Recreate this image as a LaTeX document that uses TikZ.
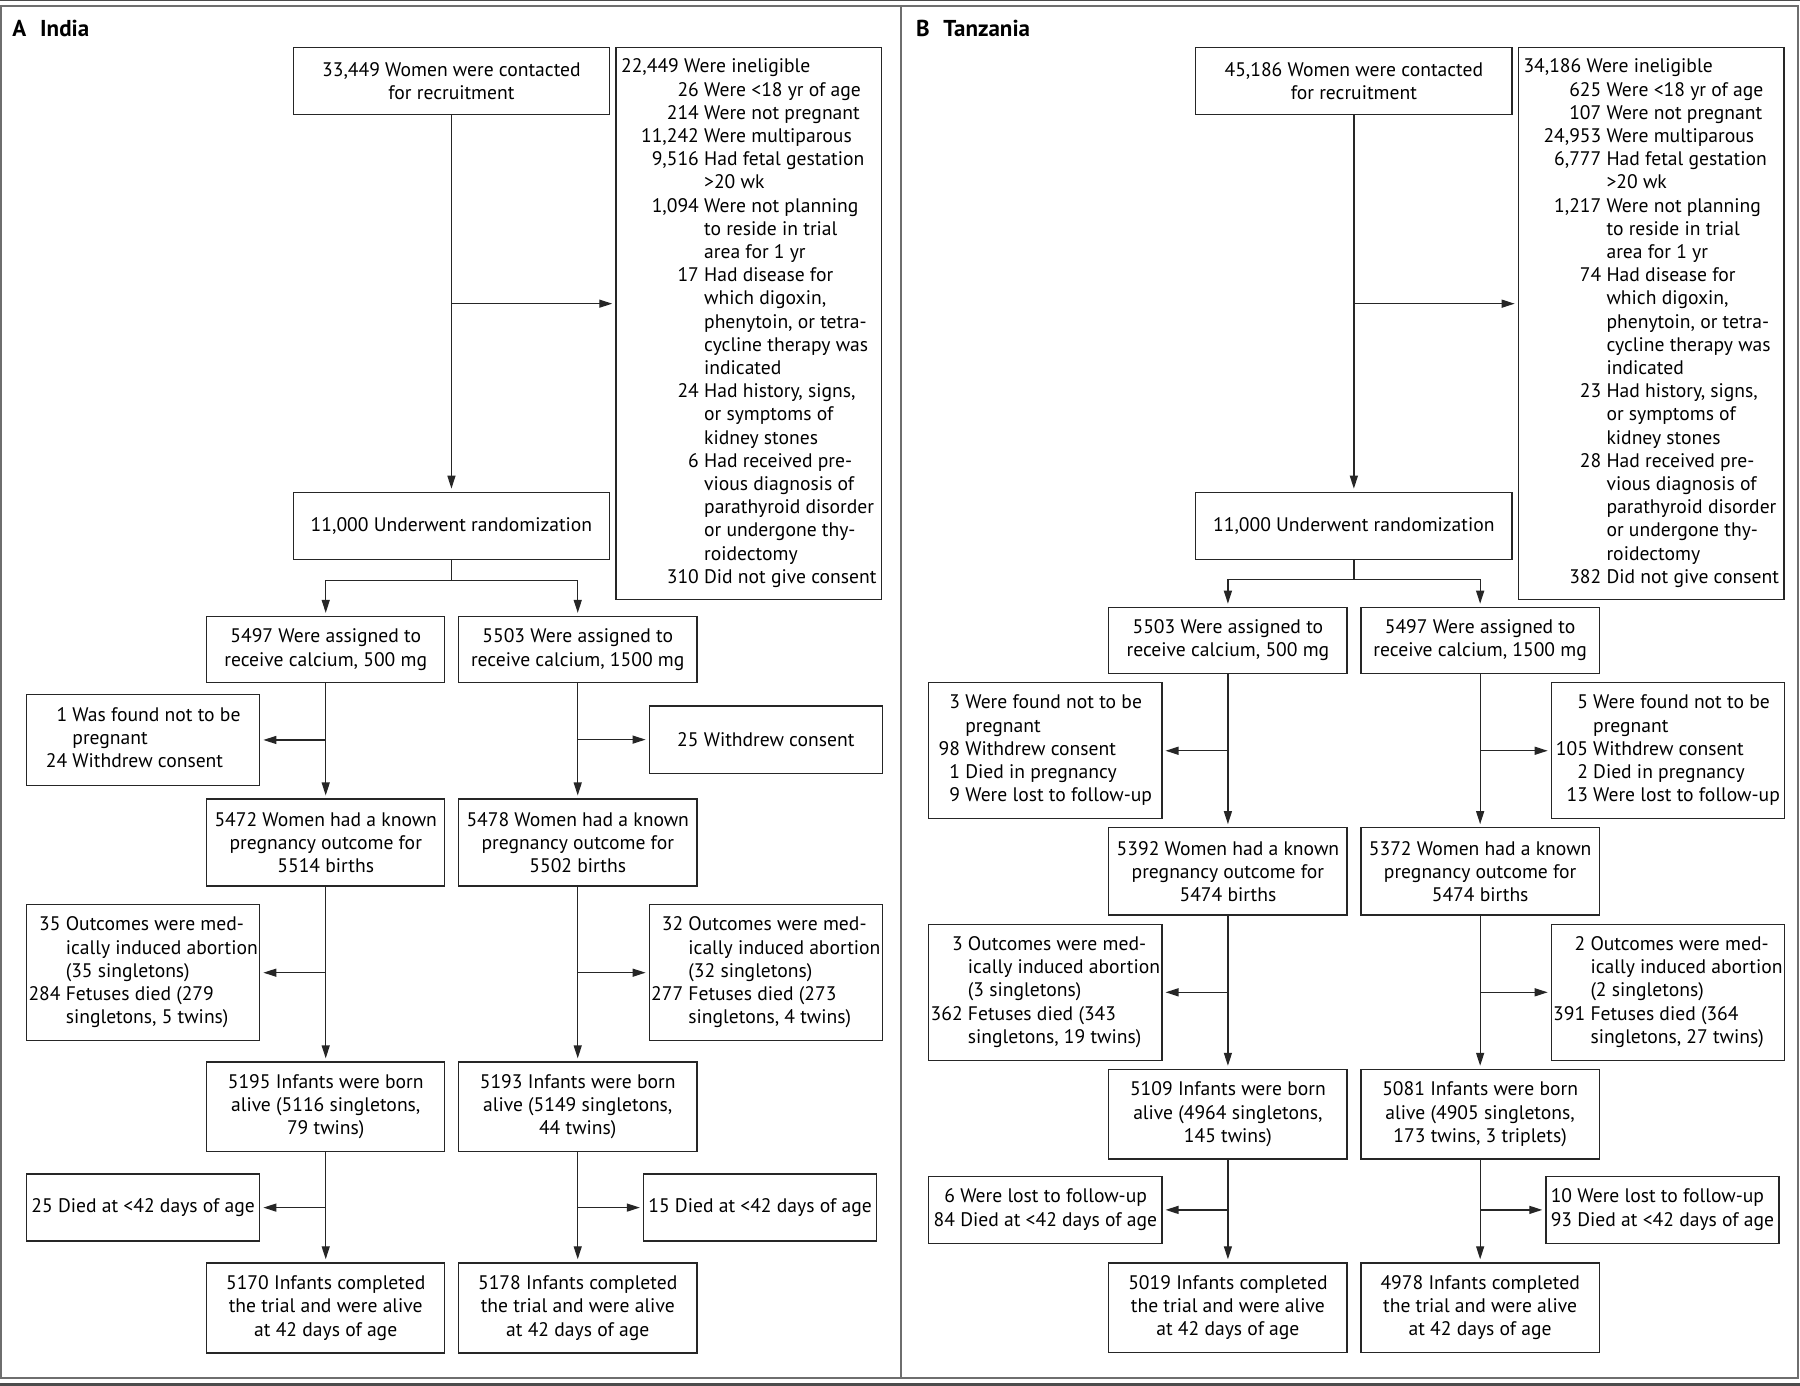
\documentclass[tikz,border=0pt]{standalone}
\usepackage{fontspec}
\setmainfont{PT Sans}
\usetikzlibrary{arrows.meta}

\newcommand{\dpx}{0.574pt}

\tikzset{
  box/.style={draw=black!85, line width=0.65pt, inner sep=0pt, align=center,
    font=\fontsize{9.8}{11.6}\selectfont},
  topbox/.style={box, minimum width=275.5*\dpx, minimum height=58.4*\dpx},
  armbox/.style={box, minimum width=207.5*\dpx},
  sidebox/.style={box, minimum width=203*\dpx},
  flow/.style={draw=black!85, line width=0.65pt, -{Triangle[length=6.5pt,width=4pt]}, shorten >=1.5pt},
  link/.style={draw=black!85, line width=0.65pt},
  panel/.style={draw=black!57, line width=1pt},
  heading/.style={anchor=base west, inner sep=0pt, font=\fontsize{11.5}{13}\selectfont\bfseries}
}

\begin{document}
\begin{tikzpicture}[x=\dpx, y=-\dpx]
\useasboundingbox (0,0) rectangle (1567.8,1207.2);
% frame
\fill [black!70] (0,0) rectangle (1567.8,1.2);
\fill [black!70] (0,1205) rectangle (1567.8,1207.2);
\draw [panel] (0.9,4.8) rectangle (1566,1199.8);
\draw [panel] (784.9,4.8) -- (784.9,1199.8);

% Panel A
\node [heading] (iTitle) at (10.5,31.4) {A\hspace{0.6em}India};

\node [topbox] (iRec) at (393.2,70.8) {33,449 Women were contacted\\for recruitment};

\node [box,
    minimum width=231.5*\dpx,
    minimum height=480.4*\dpx] (iInel) at (652.2,281.8)
  {\begin{tabular}{@{\hspace{10pt}}r@{\ }l@{}}
  \multicolumn{2}{@{}l@{}}{22,449 Were ineligible}\\
  26&Were <18 yr of age\\
  214&Were not pregnant\\
  11,242&Were multiparous\\
  9,516&Had fetal gestation\\
  &>20 wk\\
  1,094&Were not planning\\
  &to reside in trial\\
  &area for 1 yr\\
  17&Had disease for\\
  &which digoxin,\\
  &phenytoin, or tetra-\\
  &cycline therapy was\\
  &indicated\\
  24&Had history, signs,\\
  &or symptoms of\\
  &kidney stones\\
  6&Had received pre-\\
  &vious diagnosis of\\
  &parathyroid disorder\\
  &or undergone thy-\\
  &roidectomy\\
  310&Did not give consent
  \end{tabular}};

\node [topbox] (iRand) at (393.2,458) {11,000 Underwent randomization};

% arms
\node [armbox, minimum height=57.6*\dpx] (iLow) at (283.7,565.8) {5497 Were assigned to\\receive calcium, 500 mg};
\node [armbox, minimum height=57.6*\dpx] (iHigh) at (503.2,565.8) {5503 Were assigned to\\receive calcium, 1500 mg};

\node [sidebox, minimum height=79*\dpx] (iLowEx1) at (124.7,644.5)
  {\begin{tabular}{@{}r@{\ }l@{}}1&Was found not to be\\&pregnant\\24&Withdrew consent\end{tabular}};
\node [sidebox, minimum height=58.5*\dpx] (iHighEx1) at (667,644.2) {25 Withdrew consent};

\node [armbox, minimum height=75.6*\dpx] (iLowPreg) at (283.7,733.8) {5472 Women had a known\\pregnancy outcome for\\5514 births};
\node [armbox, minimum height=75.6*\dpx] (iHighPreg) at (503.2,733.8) {5478 Women had a known\\pregnancy outcome for\\5502 births};

\node [sidebox, minimum height=118.5*\dpx] (iLowEx2) at (124.7,847.2)
  {\begin{tabular}{@{}r@{\ }l@{}}35&Outcomes were med-\\&ically induced abortion\\&(35 singletons)\\284&Fetuses died (279\\&singletons, 5 twins)\end{tabular}};
\node [sidebox, minimum height=118.5*\dpx] (iHighEx2) at (667,847.2)
  {\begin{tabular}{@{}r@{\ }l@{}}32&Outcomes were med-\\&ically induced abortion\\&(32 singletons)\\277&Fetuses died (273\\&singletons, 4 twins)\end{tabular}};

\node [armbox, minimum height=78*\dpx] (iLowBorn) at (283.7,964) {5195 Infants were born\\alive (5116 singletons,\\79 twins)};
\node [armbox, minimum height=78*\dpx] (iHighBorn) at (503.2,964) {5193 Infants were born\\alive (5149 singletons,\\44 twins)};

\node [sidebox, minimum height=58.4*\dpx] (iLowEx3) at (124.7,1051.8) {25 Died at <42 days of age};
\node [sidebox, minimum height=58.4*\dpx] (iHighEx3) at (662,1051.8) {15 Died at <42 days of age};

\node [armbox, minimum height=78.4*\dpx] (iLowDone) at (283.7,1139.2) {5170 Infants completed\\the trial and were alive\\at 42 days of age};
\node [armbox, minimum height=78.4*\dpx] (iHighDone) at (503.2,1139.2) {5178 Infants completed\\the trial and were alive\\at 42 days of age};

% Panel A connectors
\draw [flow] (iRec) -- (iRand);
\coordinate (iJoin) at (393.2,264.5);
\draw [flow] (iJoin) -- (iJoin -| iInel.west);
\draw [link] (iRand.south) -- ++(0,18) coordinate (iSplit);
\draw [flow] (iSplit) -| (iLow.north);
\draw [flow] (iSplit) -| (iHigh.north);
\draw [flow] (iLow) -- (iLowPreg);
\draw [flow] (iHigh) -- (iHighPreg);
\draw [flow] (iLow.south |- iLowEx1.east) -- (iLowEx1);
\draw [flow] (iHigh.south |- iHighEx1.west) -- (iHighEx1);
\draw [flow] (iLowPreg) -- (iLowBorn);
\draw [flow] (iHighPreg) -- (iHighBorn);
\draw [flow] (iLowPreg.south |- iLowEx2.east) -- (iLowEx2);
\draw [flow] (iHighPreg.south |- iHighEx2.west) -- (iHighEx2);
\draw [flow] (iLowBorn) -- (iLowDone);
\draw [flow] (iHighBorn) -- (iHighDone);
\draw [flow] (iLowBorn.south |- iLowEx3.east) -- (iLowEx3);
\draw [flow] (iHighBorn.south |- iHighEx3.west) -- (iHighEx3);

% Panel B
\node [heading] (tTitle) at (797.5,31.4) {B\hspace{0.6em}Tanzania};

\node [topbox] (tRec) at (1179.2,70.8) {45,186 Women were contacted\\for recruitment};

\node [box,
    minimum width=231.5*\dpx,
    minimum height=480.4*\dpx] (tInel) at (1438.2,281.8)
  {\begin{tabular}{@{\hspace{10pt}}r@{\ }l@{}}
  \multicolumn{2}{@{}l@{}}{34,186 Were ineligible}\\
  625&Were <18 yr of age\\
  107&Were not pregnant\\
  24,953&Were multiparous\\
  6,777&Had fetal gestation\\
  &>20 wk\\
  1,217&Were not planning\\
  &to reside in trial\\
  &area for 1 yr\\
  74&Had disease for\\
  &which digoxin,\\
  &phenytoin, or tetra-\\
  &cycline therapy was\\
  &indicated\\
  23&Had history, signs,\\
  &or symptoms of\\
  &kidney stones\\
  28&Had received pre-\\
  &vious diagnosis of\\
  &parathyroid disorder\\
  &or undergone thy-\\
  &roidectomy\\
  382&Did not give consent
  \end{tabular}};

\node [topbox] (tRand) at (1179.2,458) {11,000 Underwent randomization};

% arms
\node [armbox, minimum height=57.6*\dpx] (tLow) at (1069.5,557.8) {5503 Were assigned to\\receive calcium, 500 mg};
\node [armbox, minimum height=57.6*\dpx] (tHigh) at (1289.2,557.8) {5497 Were assigned to\\receive calcium, 1500 mg};

\node [sidebox, minimum height=118.6*\dpx] (tLowEx1) at (910.5,653.9)
  {\begin{tabular}{@{}r@{\ }l@{}}3&Were found not to be\\&pregnant\\98&Withdrew consent\\1&Died in pregnancy\\9&Were lost to follow-up\end{tabular}};
\node [sidebox, minimum height=118.6*\dpx] (tHighEx1) at (1452.7,653.9)
  {\begin{tabular}{@{}r@{\ }l@{}}5&Were found not to be\\&pregnant\\105&Withdrew consent\\2&Died in pregnancy\\13&Were lost to follow-up\end{tabular}};

\node [armbox, minimum height=76*\dpx] (tLowPreg) at (1069.5,759) {5392 Women had a known\\pregnancy outcome for\\5474 births};
\node [armbox, minimum height=76*\dpx] (tHighPreg) at (1289.2,759) {5372 Women had a known\\pregnancy outcome for\\5474 births};

\node [sidebox, minimum height=118.7*\dpx] (tLowEx2) at (910.5,864.3)
  {\begin{tabular}{@{}r@{\ }l@{}}3&Outcomes were med-\\&ically induced abortion\\&(3 singletons)\\362&Fetuses died (343\\&singletons, 19 twins)\end{tabular}};
\node [sidebox, minimum height=118.7*\dpx] (tHighEx2) at (1452.7,864.3)
  {\begin{tabular}{@{}r@{\ }l@{}}2&Outcomes were med-\\&ically induced abortion\\&(2 singletons)\\391&Fetuses died (364\\&singletons, 27 twins)\end{tabular}};

\node [armbox, minimum height=78*\dpx] (tLowBorn) at (1069.5,970.5) {5109 Infants were born\\alive (4964 singletons,\\145 twins)};
\node [armbox, minimum height=78*\dpx] (tHighBorn) at (1289.2,970.5) {5081 Infants were born\\alive (4905 singletons,\\173 twins, 3 triplets)};

\node [sidebox, minimum height=58.3*\dpx] (tLowEx3) at (910.5,1053.8)
  {\begin{tabular}{@{}r@{\ }l@{}}6&Were lost to follow-up\\84&Died at <42 days of age\end{tabular}};
\node [sidebox, minimum height=58.3*\dpx] (tHighEx3) at (1448,1053.8)
  {\begin{tabular}{@{}r@{\ }l@{}}10&Were lost to follow-up\\93&Died at <42 days of age\end{tabular}};

\node [armbox, minimum height=78*\dpx] (tLowDone) at (1069.5,1139) {5019 Infants completed\\the trial and were alive\\at 42 days of age};
\node [armbox, minimum height=78*\dpx] (tHighDone) at (1289.2,1139) {4978 Infants completed\\the trial and were alive\\at 42 days of age};

% Panel B connectors
\draw [flow] (tRec) -- (tRand);
\coordinate (tJoin) at (1179.2,264.5);
\draw [flow] (tJoin) -- (tJoin -| tInel.west);
\draw [link] (tRand.south) -- ++(0,17) coordinate (tSplit);
\draw [flow] (tSplit) -| (tLow.north);
\draw [flow] (tSplit) -| (tHigh.north);
\draw [flow] (tLow) -- (tLowPreg);
\draw [flow] (tHigh) -- (tHighPreg);
\draw [flow] (tLow.south |- tLowEx1.east) -- (tLowEx1);
\draw [flow] (tHigh.south |- tHighEx1.west) -- (tHighEx1);
\draw [flow] (tLowPreg) -- (tLowBorn);
\draw [flow] (tHighPreg) -- (tHighBorn);
\draw [flow] (tLowPreg.south |- tLowEx2.east) -- (tLowEx2);
\draw [flow] (tHighPreg.south |- tHighEx2.west) -- (tHighEx2);
\draw [flow] (tLowBorn) -- (tLowDone);
\draw [flow] (tHighBorn) -- (tHighDone);
\draw [flow] (tLowBorn.south |- tLowEx3.east) -- (tLowEx3);
\draw [flow] (tHighBorn.south |- tHighEx3.west) -- (tHighEx3);
\end{tikzpicture}
\end{document}
